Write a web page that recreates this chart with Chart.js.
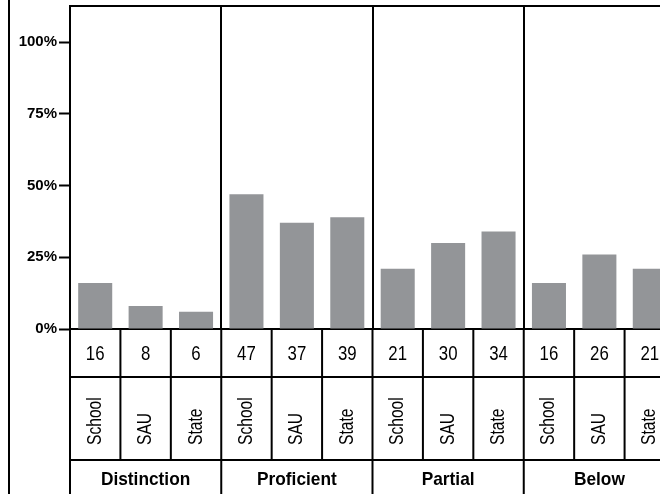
<!DOCTYPE html>
<html>
<head>
<meta charset="utf-8">
<script src="https://cdn.jsdelivr.net/npm/chart.js@4.4.1/dist/chart.umd.min.js"></script>
<style>
  html, body { margin: 0; padding: 0; background: #fff; overflow: hidden; }
  #wrap { position: relative; width: 676px; height: 494px; }
</style>
</head>
<body>
<div id="wrap"><canvas id="myChart"></canvas></div>
<script>
// Datos del gráfico
const grupos = ['Distinction', 'Proficient', 'Partial', 'Below'];
const fuentes = ['School', 'SAU', 'State'];
const porcentajes = [16, 8, 6, 47, 37, 39, 21, 30, 34, 16, 26, 21];
const ticksY = [0, 25, 50, 75, 100];

const FUENTE = "'Liberation Sans', Arial, sans-serif";
const GRIS = '#939598';

// Etiquetas: una por barra (grupo + fuente)
const etiquetas = [];
grupos.forEach(g => fuentes.forEach(f => etiquetas.push(g + ' ' + f)));

// Texto estrechado horizontalmente (para imitar una fuente condensada)
function textoEstrecho(ctx, texto, x, y, escala) {
    ctx.save();
    ctx.translate(x, y);
    ctx.scale(escala, 1);
    ctx.fillText(texto, 0, 0);
    ctx.restore();
}

// Plugin para el marco y la tabla de abajo
const tablaPlugin = {
    id: 'tabla',
    afterDraw(chart) {
        const ctx = chart.ctx;
        const area = chart.chartArea;
        const x = chart.scales.x;
        const catW = x.getPixelForValue(1) - x.getPixelForValue(0);
        const alto = chart.height;
        const fila1 = area.bottom + 48;
        const fila2 = area.bottom + 131;

        ctx.save();
        ctx.strokeStyle = '#000';
        ctx.lineWidth = 2;

        // línea exterior izquierda y borde superior
        ctx.beginPath();
        ctx.moveTo(9, 0); ctx.lineTo(9, alto);
        ctx.moveTo(area.left - 1, area.top); ctx.lineTo(chart.width, area.top);
        ctx.stroke();

        // líneas horizontales de la tabla
        ctx.beginPath();
        ctx.moveTo(area.left - 1, fila1); ctx.lineTo(chart.width, fila1);
        ctx.moveTo(area.left - 1, fila2); ctx.lineTo(chart.width, fila2);
        ctx.stroke();

        // líneas verticales
        ctx.beginPath();
        for (let i = 0; i <= etiquetas.length; i++) {
            const px = area.left + i * catW;
            ctx.moveTo(px, area.bottom);
            ctx.lineTo(px, i % 3 === 0 ? alto : fila2);
        }
        ctx.stroke();

        ctx.fillStyle = '#000';
        ctx.textAlign = 'center';
        ctx.textBaseline = 'middle';

        // fila de valores
        ctx.font = '21px ' + FUENTE;
        porcentajes.forEach((v, i) => {
            textoEstrecho(ctx, String(v), x.getPixelForValue(i), area.bottom + 25, 0.8);
        });

        // fila de nombres (rotados)
        ctx.font = '20px ' + FUENTE;
        etiquetas.forEach((e, i) => {
            ctx.save();
            ctx.translate(x.getPixelForValue(i), fila2 - 15);
            ctx.rotate(-Math.PI / 2);
            ctx.textAlign = 'left';
            textoEstrecho(ctx, fuentes[i % 3], 0, 0, 0.78);
            ctx.restore();
        });

        // fila de grupos
        ctx.font = 'bold 19px ' + FUENTE;
        grupos.forEach((g, gi) => {
            const cx = area.left + (gi * 3 + 1.5) * catW;
            textoEstrecho(ctx, g, cx, fila2 + 20, 0.91);
        });
        ctx.restore();
    }
};

function graficar() {
    const ctx = document.getElementById('myChart').getContext('2d');
    new Chart(ctx, {
        type: 'bar',
        data: {
            labels: etiquetas,
            datasets: [{
                data: porcentajes,
                backgroundColor: GRIS,
                borderWidth: 0,
                barPercentage: 0.675,
                categoryPercentage: 1
            }]
        },
        options: {
            responsive: true,
            maintainAspectRatio: false,
            animation: false,
            layout: { padding: { top: 6, bottom: 165, left: 0, right: 1 } },
            plugins: { legend: { display: false }, tooltip: { enabled: false } },
            scales: {
                x: {
                    offset: true,
                    ticks: { display: false },
                    grid: {
                        offset: true,
                        drawTicks: false,
                        lineWidth: 2,
                        color: c => (c.index > 0 && c.index % 3 === 0) ? '#000' : 'rgba(0,0,0,0)'
                    },
                    border: { display: true, color: '#000', width: 2 },
                    afterFit: s => { s.height = 0; }
                },
                y: {
                    min: 0,
                    max: 112.6,
                    afterBuildTicks: s => { s.ticks = ticksY.map(v => ({ value: v })); },
                    afterFit: s => { s.width = 70; s.paddingTop = 0; s.paddingBottom = 0; },
                    ticks: {
                        padding: 2,
                        color: '#000',
                        font: { family: FUENTE, size: 15, weight: 'bold' },
                        callback: v => v + '%'
                    },
                    grid: {
                        drawOnChartArea: false,
                        drawTicks: true,
                        tickLength: 11,
                        tickColor: '#000',
                        tickWidth: 2
                    },
                    border: { display: true, color: '#000', width: 2 }
                }
            }
        },
        plugins: [tablaPlugin]
    });
}

document.addEventListener('DOMContentLoaded', graficar);
</script>
</body>
</html>
